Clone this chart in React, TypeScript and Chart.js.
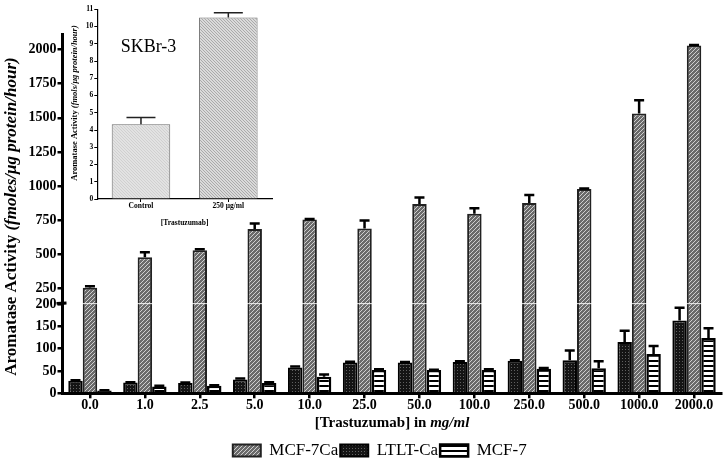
import React, { useEffect, useRef } from 'react';
import { Chart, registerables, LinearScale } from 'chart.js';

Chart.register(...registerables);

// ---------- main chart data ----------
const categories = ['0.0', '1.0', '2.5', '5.0', '10.0', '25.0', '50.0', '100.0', '250.0', '500.0', '1000.0', '2000.0'];
const ltltCa = [28, 24, 23, 31, 58, 69, 69, 70, 73, 74, 115, 163];
const ltltCaErr = [1, 1, 1, 2, 2, 2, 1, 2, 1, 22, 25, 29];
const mcf7Ca = [257, 480, 530, 687, 755, 690, 870, 797, 877, 978, 1531, 2029];
const mcf7CaErr = [10, 37, 8, 39, 4, 58, 46, 41, 58, 4, 97, 4];
const mcf7 = [6, 15, 17, 23, 37, 52, 52, 52, 55, 56, 88, 124];
const mcf7Err = [1, 2, 1, 2, 5, 2, 1, 2, 2, 16, 18, 22];
const yTicks = [0, 50, 100, 150, 200, 250, 500, 750, 1000, 1250, 1500, 1750, 2000];

// broken axis segments
const LOW_MAX = 202;
const HIGH_MIN = 200;
const Y_MAX = 2120;
const LOW_FRAC = 0.25;
const GAP_FRAC = 0.0215;

// ---------- inset data ----------
const insetCategories = ['Control', '250 \u03bcg/ml'];
const insetValues = [4.33, 10.52];
const insetErr = [0.4, 0.28];

const SERIF = '"Liberation Serif", "Times New Roman", serif';

class BrokenLinearScale extends LinearScale {
  static id = 'brokenLinear';
  static defaults = LinearScale.defaults;
  getPixelForValue(value: number) {
    if (value === null || value === undefined) return NaN;
    const h = this.bottom - this.top;
    const lowPx = h * LOW_FRAC;
    const gapPx = h * GAP_FRAC;
    const highPx = h - lowPx - gapPx;
    if (value <= LOW_MAX) return this.bottom - (value / LOW_MAX) * lowPx;
    return this.bottom - lowPx - gapPx - ((value - HIGH_MIN) / (Y_MAX - HIGH_MIN)) * highPx;
  }
  getValueForPixel(pixel: number) {
    const h = this.bottom - this.top;
    const lowPx = h * LOW_FRAC;
    const gapPx = h * GAP_FRAC;
    const highPx = h - lowPx - gapPx;
    const d = this.bottom - pixel;
    if (d <= lowPx) return (d / lowPx) * LOW_MAX;
    return HIGH_MIN + ((d - lowPx - gapPx) / highPx) * (Y_MAX - HIGH_MIN);
  }
}
Chart.register(BrokenLinearScale as any);

function makePattern(w: number, h: number, draw: (g: CanvasRenderingContext2D) => void) {
  const c = document.createElement('canvas');
  c.width = w;
  c.height = h;
  const g = c.getContext('2d')!;
  draw(g);
  return g.createPattern(c, 'repeat')!;
}

function drawMixed(ctx: CanvasRenderingContext2D, parts: { text: string; font: string }[], cx: number, cy: number) {
  let total = 0;
  const widths = parts.map((p) => {
    ctx.font = p.font;
    const w = ctx.measureText(p.text).width;
    total += w;
    return w;
  });
  let x = cx - total / 2;
  ctx.textBaseline = 'middle';
  ctx.textAlign = 'left';
  ctx.fillStyle = '#000';
  parts.forEach((p, i) => {
    ctx.font = p.font;
    ctx.fillText(p.text, x, cy);
    x += widths[i];
  });
}

export default function App() {
  const mainRef = useRef<HTMLCanvasElement>(null);
  const insetRef = useRef<HTMLCanvasElement>(null);

  useEffect(() => {
    const patMcf7Ca = makePattern(4, 4, (g) => {
      g.fillStyle = '#6a6a6a';
      g.fillRect(0, 0, 4, 4);
      g.strokeStyle = '#cfcfcf';
      g.lineWidth = 1;
      for (const k of [-4, 0, 4]) {
        g.beginPath();
        g.moveTo(k, 4);
        g.lineTo(k + 4, 0);
        g.stroke();
      }
    });
    const patLtlt = makePattern(3, 3, (g) => {
      g.fillStyle = '#141414';
      g.fillRect(0, 0, 3, 3);
      g.fillStyle = '#606060';
      g.fillRect(1, 1, 1, 1);
    });
    const patMcf7 = makePattern(4, 5, (g) => {
      g.fillStyle = '#ffffff';
      g.fillRect(0, 0, 4, 5);
      g.fillStyle = '#000000';
      g.fillRect(0, 0, 4, 2);
    });
    const patCtrl = makePattern(3, 3, (g) => {
      g.fillStyle = '#e2e2e2';
      g.fillRect(0, 0, 3, 3);
      g.fillStyle = '#d0d0d0';
      g.fillRect(0, 0, 1, 1);
      g.fillRect(1, 1, 1, 1);
      g.fillRect(2, 2, 1, 1);
    });
    const pat250 = makePattern(3, 3, (g) => {
      g.fillStyle = '#dadada';
      g.fillRect(0, 0, 3, 3);
      g.fillStyle = '#aaaaaa';
      g.fillRect(0, 0, 1, 1);
      g.fillRect(1, 1, 1, 1);
      g.fillRect(2, 2, 1, 1);
    });

    const errs = [ltltCaErr, mcf7CaErr, mcf7Err];
    const legendOrder: Record<number, number> = { 1: 0, 0: 1, 2: 2 };

    const mainPlugin = {
      id: 'mainDecor',
      afterLayout(chart: any) {
        if (chart.legend) {
          chart.legend.left += 7;
          chart.legend.right += 7;
        }
      },
      afterDatasetsDraw(chart: any) {
        const ctx = chart.ctx as CanvasRenderingContext2D;
        const y = chart.scales.y;
        const ca = chart.chartArea;
        const gapTop = y.getPixelForValue(HIGH_MIN + 0.0001);
        const gapBottom = y.getPixelForValue(LOW_MAX);
        ctx.save();
        ctx.fillStyle = '#ffffff';
        ctx.fillRect(ca.left + 2, gapTop, ca.right - ca.left, gapBottom - gapTop);
        ctx.strokeStyle = '#000';
        ctx.lineWidth = 2.5;
        chart.data.datasets.forEach((ds: any, i: number) => {
          const meta = chart.getDatasetMeta(i);
          meta.data.forEach((bar: any, j: number) => {
            const v = ds.data[j];
            const e = errs[i][j];
            const yTop = y.getPixelForValue(v + e);
            ctx.beginPath();
            ctx.moveTo(bar.x, bar.y);
            ctx.lineTo(bar.x, yTop);
            ctx.moveTo(bar.x - 5, yTop);
            ctx.lineTo(bar.x + 5, yTop);
            ctx.stroke();
          });
        });
        ctx.restore();
      },
      afterDraw(chart: any) {
        const ctx = chart.ctx as CanvasRenderingContext2D;
        const y = chart.scales.y;
        const ca = chart.chartArea;
        const gapTop = y.getPixelForValue(HIGH_MIN + 0.0001);
        const gapBottom = y.getPixelForValue(LOW_MAX);
        ctx.save();
        ctx.strokeStyle = '#000';
        ctx.lineWidth = 3;
        ctx.beginPath();
        ctx.moveTo(ca.left, ca.top);
        ctx.lineTo(ca.left, gapTop);
        ctx.moveTo(ca.left, gapBottom);
        ctx.lineTo(ca.left, ca.bottom + 1.5);
        ctx.stroke();
        ctx.lineWidth = 2.5;
        ctx.beginPath();
        ctx.moveTo(ca.left - 5, gapTop);
        ctx.lineTo(ca.left + 4, gapTop - 0.5);
        ctx.moveTo(ca.left - 6, gapBottom);
        ctx.lineTo(ca.left + 4, gapBottom - 0.5);
        ctx.stroke();
        // axis titles with mixed styles
        const cx = (ca.left + ca.right) / 2;
        drawMixed(
          ctx,
          [
            { text: '[Trastuzumab] in ', font: `bold 15px ${SERIF}` },
            { text: 'mg/ml', font: `italic bold 15px ${SERIF}` },
          ],
          cx,
          423
        );
        ctx.translate(12, 216.5);
        ctx.rotate(-Math.PI / 2);
        drawMixed(
          ctx,
          [
            { text: 'Aromatase Activity ', font: `bold 17px ${SERIF}` },
            { text: '(fmoles/\u03bcg protein/hour)', font: `italic bold 17px ${SERIF}` },
          ],
          0,
          0
        );
        ctx.restore();
      },
    };

    const tickFont = { family: SERIF, size: 14, weight: 'bold' as const, lineHeight: 1 };

    const main = new Chart(mainRef.current!, {
      type: 'bar',
      data: {
        labels: categories,
        datasets: [
          { label: 'LTLT-Ca', data: ltltCa, backgroundColor: patLtlt, borderColor: '#000', borderWidth: 2 },
          { label: 'MCF-7Ca', data: mcf7Ca, backgroundColor: patMcf7Ca, borderColor: '#222', borderWidth: 2 },
          { label: 'MCF-7', data: mcf7, backgroundColor: patMcf7, borderColor: '#000', borderWidth: 2.5 },
        ],
      },
      options: {
        animation: false,
        responsive: false,
        layout: { padding: { top: 33, left: 24, right: 6.5, bottom: -7 } },
        datasets: { bar: { categoryPercentage: 0.79, barPercentage: 1 } },
        plugins: {
          legend: {
            position: 'bottom',
            labels: {
              boxWidth: 28,
              boxHeight: 12,
              padding: 2,
              color: '#000',
              font: { family: SERIF, size: 17 },
              sort: (a: any, b: any) => legendOrder[a.datasetIndex] - legendOrder[b.datasetIndex],
            },
          },
          tooltip: { enabled: false },
        },
        scales: {
          x: {
            type: 'category',
            grid: { display: true, drawOnChartArea: false, drawTicks: true, tickLength: 5, lineWidth: 2.5, color: '#000', offset: false },
            border: { display: true, color: '#000', width: 3 },
            ticks: { color: '#000', font: tickFont, padding: 0, maxRotation: 0, autoSkip: false },
            afterFit: (s: any) => {
              s.height = 46.7;
            },
          },
          y: {
            type: 'brokenLinear' as any,
            min: 0,
            max: Y_MAX,
            bounds: 'data',
            afterBuildTicks: (s: any) => {
              s.ticks = yTicks.map((v) => ({ value: v }));
            },
            grid: { display: true, drawOnChartArea: false, drawTicks: true, tickLength: 5, lineWidth: 2.5, color: '#000' },
            border: { display: false },
            ticks: { color: '#000', font: tickFont, padding: 1, autoSkip: false, callback: (v: any) => String(v) },
            afterFit: (s: any) => {
              s.width = 38.5;
            },
          } as any,
        },
      },
      plugins: [mainPlugin],
    });

    const insetPlugin = {
      id: 'insetDecor',
      afterDatasetsDraw(chart: any) {
        const ctx = chart.ctx as CanvasRenderingContext2D;
        const y = chart.scales.y;
        const meta = chart.getDatasetMeta(0);
        ctx.save();
        ctx.strokeStyle = '#222';
        ctx.lineWidth = 1.5;
        meta.data.forEach((bar: any, j: number) => {
          const yTop = y.getPixelForValue(insetValues[j] + insetErr[j]);
          ctx.beginPath();
          ctx.moveTo(bar.x, bar.y);
          ctx.lineTo(bar.x, yTop);
          ctx.moveTo(bar.x - 14.5, yTop);
          ctx.lineTo(bar.x + 14.5, yTop);
          ctx.stroke();
        });
        ctx.restore();
      },
      afterDraw(chart: any) {
        const ctx = chart.ctx as CanvasRenderingContext2D;
        ctx.save();
        ctx.fillStyle = '#000';
        ctx.font = `18px ${SERIF}`;
        ctx.textAlign = 'left';
        ctx.textBaseline = 'middle';
        ctx.fillText('SKBr-3', 60.7, 47);
        ctx.translate(15, 103);
        ctx.rotate(-Math.PI / 2);
        drawMixed(
          ctx,
          [
            { text: 'Aromatase Activity ', font: `bold 8.5px ${SERIF}` },
            { text: '(fmols/\u03bcg protein/hour)', font: `italic bold 8.5px ${SERIF}` },
          ],
          0,
          0
        );
        ctx.restore();
      },
    };

    const insetFont = { family: SERIF, size: 7.5, weight: 'bold' as const, lineHeight: 1.2 };

    const inset = new Chart(insetRef.current!, {
      type: 'bar',
      data: {
        labels: insetCategories,
        datasets: [
          {
            data: insetValues,
            backgroundColor: [patCtrl, pat250],
            borderColor: '#6b6b6b',
            borderWidth: 1,
            barPercentage: 0.67,
            categoryPercentage: 1,
          },
        ],
      },
      options: {
        animation: false,
        responsive: false,
        layout: { padding: { top: 9.3, left: 0, right: 14, bottom: 0 } },
        plugins: { legend: { display: false }, tooltip: { enabled: false } },
        scales: {
          x: {
            grid: { display: true, drawOnChartArea: false, drawTicks: true, tickLength: 3, lineWidth: 1, color: '#000', offset: false },
            border: { display: true, color: '#000', width: 1.2 },
            ticks: { color: '#000', font: insetFont, padding: 0 },
            title: { display: true, text: '[Trastuzumab]', color: '#000', font: insetFont, padding: { top: 4, bottom: 0 } },
            afterFit: (s: any) => {
              s.height = 29;
            },
          },
          y: {
            min: 0,
            max: 11,
            grid: { display: true, drawOnChartArea: false, drawTicks: true, tickLength: 3, lineWidth: 1, color: '#000' },
            border: { display: true, color: '#000', width: 1.2 },
            ticks: { color: '#000', font: insetFont, padding: 1, stepSize: 1 },
            afterFit: (s: any) => {
              s.width = 37.3;
            },
          },
        },
      },
      plugins: [insetPlugin],
    });

    return () => {
      main.destroy();
      inset.destroy();
    };
  }, []);

  return (
    <div style={{ position: 'absolute', left: 0, top: 0, width: 728, height: 462, background: '#fff' }}>
      <canvas ref={mainRef} width={728} height={462} style={{ position: 'absolute', left: 0, top: 0 }} />
      <canvas ref={insetRef} width={226} height={228} style={{ position: 'absolute', left: 60, top: 0 }} />
    </div>
  );
}
